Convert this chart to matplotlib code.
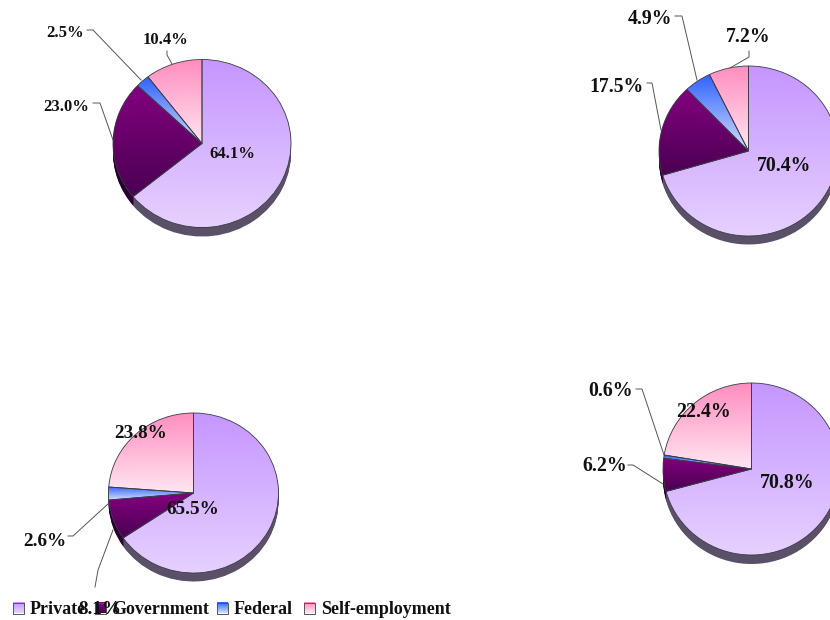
import numpy as np
import matplotlib
matplotlib.use("Agg")
import matplotlib.pyplot as plt
from matplotlib.colors import LinearSegmentedColormap

plt.rcParams["font.family"] = ["Liberation Serif", "DejaVu Serif"]
plt.rcParams["font.weight"] = "bold"

# Data
categories = ["Private", "Government", "Federal", "Self-employment"]
pie_a = [64.1, 23.0, 2.5, 10.4]
pie_b = [70.4, 17.5, 4.9, 7.2]
pie_c = [65.5, 8.1, 2.6, 23.8]
pie_d = [70.8, 6.2, 0.6, 22.4]

# Gradient colours (top, bottom) and the colour of the rim under each slice
grad_top = ["#c596ff", "#83007f", "#2f62ff", "#ff8dbe"]
grad_bottom = ["#e6d0ff", "#4a0052", "#d2deff", "#ffe6f2"]
rim_colors = ["#5a5068", "#2a0030", "#5a5068", "#5a5068"]

W, H = 830, 620
fig = plt.figure(figsize=(W / 100, H / 100), dpi=100)
fig.patch.set_facecolor("white")


def draw_pie(values, cx, cy, rx, ry, depth):
    # axes covers the ellipse plus some room for the rim below it
    pad = 1.04
    low = pad + depth / ry + 0.04
    rect = [(cx - pad * rx) / W, 1 - (cy + low * ry) / H,
            2 * pad * rx / W, (pad + low) * ry / H]
    ax = fig.add_axes(rect)

    for off in np.linspace(depth / ry, 0.01, 10):
        ax.pie(values, startangle=90, counterclock=False, colors=rim_colors,
               center=(0, -off), radius=1, normalize=True)

    wedges, _ = ax.pie(values, startangle=90, counterclock=False,
                       colors=grad_top, radius=1, normalize=True,
                       wedgeprops=dict(edgecolor="#3c3c48", linewidth=0.6))
    for i, w in enumerate(wedges):
        box = w.get_path().get_extents(w.get_patch_transform())
        cmap = LinearSegmentedColormap.from_list("g", [grad_top[i], grad_bottom[i]])
        img = ax.imshow(np.linspace(0, 1, 128).reshape(-1, 1), cmap=cmap,
                        extent=(box.x0, box.x1, box.y0, box.y1), origin="upper",
                        aspect="auto", zorder=w.get_zorder() + 0.1)
        img.set_clip_path(w)
        # redraw the outline above the gradient
        w.set_facecolor("none")
        w.set_zorder(w.get_zorder() + 0.2)

    ax.set_xlim(-pad, pad)
    ax.set_ylim(-low, pad)
    ax.set_aspect("auto")
    ax.axis("off")


draw_pie(pie_a, 202, 143.5, 89, 84, 9)
draw_pie(pie_b, 748.5, 151, 89.5, 85, 8.5)
draw_pie(pie_c, 193.5, 493, 85, 80, 8.5)
draw_pie(pie_d, 751.5, 469, 88.5, 86, 9)

# Overlay in pixel coordinates for labels, leaders and legend
over = fig.add_axes([0, 0, 1, 1])
over.set_xlim(0, W)
over.set_ylim(H, 0)
over.axis("off")
over.patch.set_alpha(0)

label_xy = [
    [(232, 154), (66, 107), (65, 33), (165, 40)],
    [(784.5, 166), (616, 87), (650, 19), (748, 37)],
    [(192.5, 509), (100, 609), (45, 542), (141, 433)],
    [(787, 483), (605, 466), (611, 391), (703, 412)],
]
label_size = [12, 14.2, 13.8, 14.3]
leaders = [
    [(93, 103), (100, 103), (113, 140)],
    [(87, 30), (93, 30), (141, 80)],
    [(167, 51), (167, 55), (172, 64)],
    [(647, 83), (652, 83), (661, 130)],
    [(675, 16), (682, 16), (697, 80)],
    [(749, 51), (749, 57), (730, 68)],
    [(68, 536), (73, 536), (109, 503)],
    [(95, 587), (98, 570), (113, 530)],
    [(636, 389), (642, 389), (664, 455)],
    [(628, 465), (633, 465), (663, 484)],
]
for pts in leaders:
    xs, ys = zip(*pts)
    over.plot(xs, ys, color="#555555", lw=0.7, solid_joinstyle="miter")

# Legend drawn by hand so the squares keep the slice gradients
legend_x = [13, 95, 217, 304]
legend_y = 608
for i, name in enumerate(categories):
    x = legend_x[i]
    cmap = LinearSegmentedColormap.from_list("g", [grad_top[i], grad_bottom[i]])
    over.imshow(np.linspace(0, 1, 16).reshape(-1, 1), cmap=cmap, aspect="auto",
                extent=(x, x + 11, legend_y + 5.5, legend_y - 5.5), origin="upper")
    over.plot([x, x + 11, x + 11, x, x], [legend_y - 5.5, legend_y - 5.5, legend_y + 5.5,
              legend_y + 5.5, legend_y - 5.5], color="#555555", lw=0.7)
    over.text(x + 17, legend_y + 1, name, fontsize=13, va="center", ha="left", color="#111111")

for vals, spots, size in zip([pie_a, pie_b, pie_c, pie_d], label_xy, label_size):
    for v, (x, y) in zip(vals, spots):
        over.text(x, y, f"{v:.1f}%", fontsize=size, ha="center", va="center", color="#111111")

over.set_xlim(0, W)
over.set_ylim(H, 0)

fig.savefig("out.png", dpi=100)
